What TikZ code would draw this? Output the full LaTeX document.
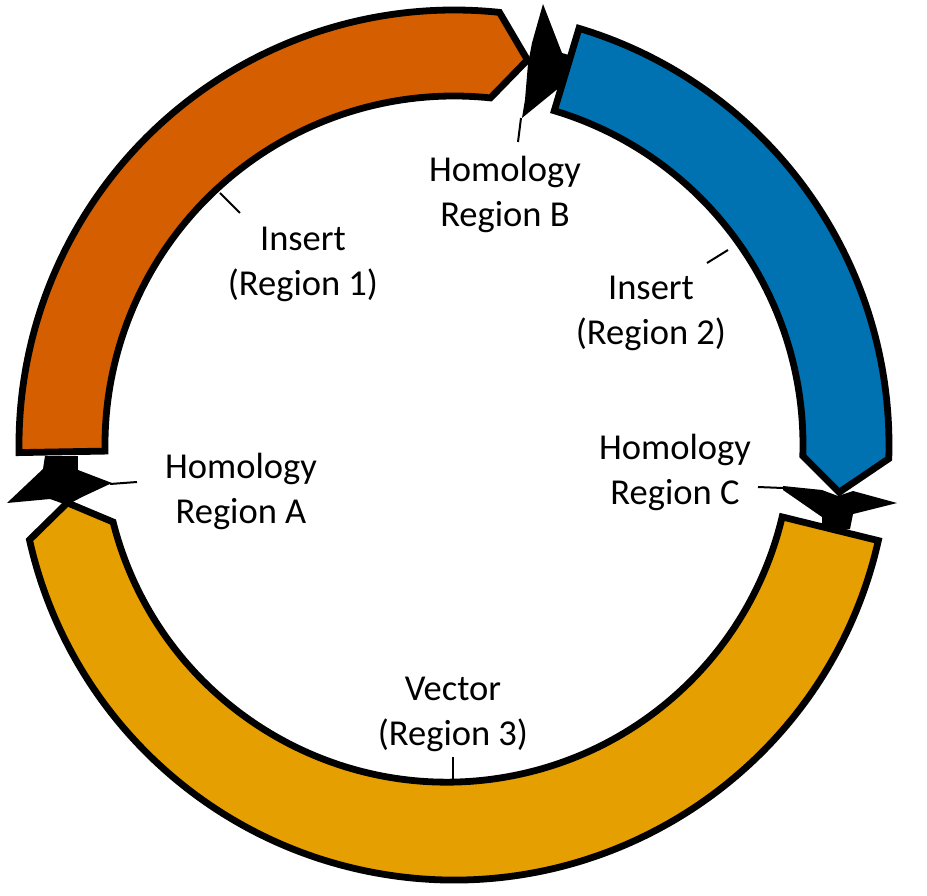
\documentclass[tikz,border=0pt]{standalone}
\usepackage{fontspec}
\setmainfont{Carlito}
\usetikzlibrary{calc}
\definecolor{insA}{HTML}{D55E00}
\definecolor{insB}{HTML}{0072B2}
\definecolor{vecC}{HTML}{E69F00}
\begin{document}
\begin{tikzpicture}[x=1pt,y=1pt,
  seg/.style={draw=black,line width=6.8pt,line join=miter,miter limit=10},
  homol/.style={fill=black},
  lbl/.style={align=center,font=\fontsize{36.5}{45}\selectfont,inner sep=0pt},
  tick/.style={line width=2pt}]
\useasboundingbox (-454,-450) rectangle (473,445);

% homology regions (black)
\fill[homol] (89,441) -- (108,392) -- (118,389) -- (120,357) -- (106,358) -- (68,327) -- (71,345) -- (74,381) -- (78,402) -- cycle;
\fill[homol] (-409,-11) -- (-376,-11) -- (-376,-25) -- (-342,-38) -- (-372,-52) -- (-387,-60) -- (-404,-54) -- (-447,-58) -- (-411,-24) -- cycle;
\fill[homol] (329,-41) -- (368,-45) -- (384,-51) -- (399,-46) -- (443,-58) -- (399,-69) -- (396,-84) -- (368,-88) -- (368,-72) -- (329,-45) -- cycle;

% insert region 1 (orange)
\path[seg,fill=insA] (181:435) arc[start angle=181,end angle=84,radius=435]
  -- (79.2:392) -- (84:349) arc[start angle=84,end angle=181,radius=349] -- cycle;
% insert region 2 (blue)
\path[seg,fill=insB] (73.3:435) arc[start angle=73.3,end angle=-1.8,radius=435]
  -- (-7:388) -- (-1.8:349) arc[start angle=-1.8,end angle=73.3,radius=349] -- cycle;
% vector region 3 (yellow)
\path[seg,fill=vecC] (-12.7:435) arc[start angle=-12.7,end angle=-167.4,radius=435]
  -- (-171.5:391) -- ($(-7,7.3)+(-165.83:344.4)$)
  arc[start angle=-165.83,end angle=-13.3,radius=344.4] -- cycle;

% labels
\node[lbl] (lA) at (-213,-46) {Homology\\Region A};
\node[lbl] (lB) at (51,251) {Homology\\Region B};
\node[lbl] (l1) at (-151,181) {Insert\\(Region 1)};
\node[lbl] (l2) at (197,132) {Insert\\(Region 2)};
\node[lbl] (lC) at (221,-27) {Homology\\Region C};
\node[lbl] (l3) at (-1,-269) {Vector\\(Region 3)};

% leader lines
\coordinate (a1) at (-344,-39); \coordinate (a2) at (-317,-37);
\coordinate (b1) at (67,327);   \coordinate (b2) at (64,303);
\coordinate (c1) at (329,-43);  \coordinate (c2) at (304,-42);
\coordinate (t1a) at (-234,252); \coordinate (t1b) at (-214,232);
\coordinate (t2a) at (274,195);  \coordinate (t2b) at (253,182);
\coordinate (t3a) at (-1,-336);  \coordinate (t3b) at (-1,-312);
\draw[tick] (a1) -- (a2);
\draw[tick] (b1) -- (b2);
\draw[tick] (c1) -- (c2);
\draw[tick] (t1a) -- (t1b);
\draw[tick] (t2a) -- (t2b);
\draw[tick] (t3a) -- (t3b);
\end{tikzpicture}
\end{document}
